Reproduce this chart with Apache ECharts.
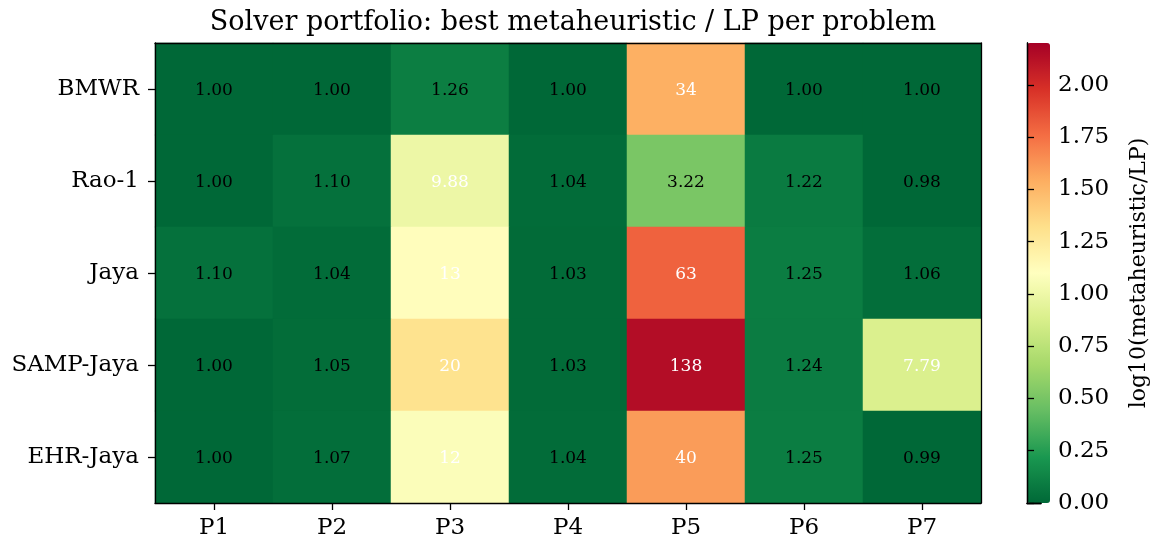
<!DOCTYPE html>
<html><head><meta charset="utf-8">
<script src="https://cdn.jsdelivr.net/npm/echarts@6/dist/echarts.min.js"></script>
<style>html,body{margin:0;padding:0;background:#fff}#c{width:1151px;height:546px}</style>
</head><body><div id="c"></div>
<script>
const problems = ['P1','P2','P3','P4','P5','P6','P7'];
const solvers = ['BMWR','Rao-1','Jaya','SAMP-Jaya','EHR-Jaya'];
const ratioBMWR     = [1.00, 1.00, 1.26, 1.00, 34,   1.00, 1.00];
const ratioRao1     = [1.00, 1.10, 9.88, 1.04, 3.22, 1.22, 0.98];
const ratioJaya     = [1.10, 1.04, 13,   1.03, 63,   1.25, 1.06];
const ratioSAMPJaya = [1.00, 1.05, 20,   1.03, 138,  1.24, 7.79];
const ratioEHRJaya  = [1.00, 1.07, 12,   1.04, 40,   1.25, 0.99];
const colorbarTicks = [0, 0.25, 0.5, 0.75, 1.0, 1.25, 1.5, 1.75, 2.0];
const vmin = 0, vmax = 2.2;

const rows = [ratioBMWR, ratioRao1, ratioJaya, ratioSAMPJaya, ratioEHRJaya];
const data = [];
rows.forEach((r, i) => r.forEach((v, j) => {
  const lv = Math.min(vmax, Math.max(vmin, Math.log10(v)));
  data.push({value: [j, i, lv, v], label: {color: v > 5 ? '#fff' : '#000'}});
}));

const FONT = 'DejaVu Serif';
const cmap = ['#006837','#1a9850','#66bd63','#a6d96a','#d9ef8b','#ffffbf','#fee08b','#fdae61','#f46d43','#d73027','#a50026'];

const chart = echarts.init(document.getElementById('c'), null, {renderer: 'canvas'});
const axisLine = {show: true, lineStyle: {color: '#000', width: 1.3}};
const tick = {show: true, length: 7, lineStyle: {color: '#000', width: 1.3}};
chart.setOption({
  animation: false,
  textStyle: {fontFamily: FONT},
  title: {text: 'Solver portfolio: best metaheuristic / LP per problem', left: 568, textAlign: 'center', top: 4,
          textStyle: {fontFamily: FONT, fontSize: 27, fontWeight: 'normal', color: '#000'}},
  grid: [
    {left: 155, top: 43, width: 826, height: 460},
    {left: 1027, top: 43, width: 23, height: 460}
  ],
  xAxis: [
    {type: 'category', data: problems, gridIndex: 0, position: 'bottom', z: 5,
     axisLine, axisTick: Object.assign({alignWithLabel: true}, tick),
     axisLabel: {fontFamily: FONT, fontSize: 23, color: '#000', margin: 14}, splitLine: {show: false}},
    {type: 'category', data: problems, gridIndex: 0, position: 'top', z: 5,
     axisLine, axisTick: {show: false}, axisLabel: {show: false}},
    {type: 'value', gridIndex: 1, position: 'bottom', min: 0, max: 1, z: 5, axisLine, axisTick: {show: false}, axisLabel: {show: false}, splitLine: {show: false}},
    {type: 'value', gridIndex: 1, position: 'top', min: 0, max: 1, z: 5, axisLine, axisTick: {show: false}, axisLabel: {show: false}, splitLine: {show: false}}
  ],
  yAxis: [
    {type: 'category', data: solvers, inverse: true, gridIndex: 0, position: 'left', z: 5,
     axisLine, axisTick: Object.assign({alignWithLabel: true}, tick),
     axisLabel: {fontFamily: FONT, fontSize: 23, color: '#000', margin: 16}},
    {type: 'category', data: solvers, inverse: true, gridIndex: 0, position: 'right', z: 5,
     axisLine, axisTick: {show: false}, axisLabel: {show: false}},
    {type: 'value', gridIndex: 1, position: 'right', min: vmin, max: vmax, z: 5,
     axisLine, splitLine: {show: false},
     axisTick: Object.assign({customValues: colorbarTicks}, tick),
     axisLabel: {fontFamily: FONT, fontSize: 23, color: '#000', margin: 17, customValues: colorbarTicks, formatter: v => Number(v).toFixed(2)},
     name: 'log10(metaheuristic/LP)', nameLocation: 'middle', nameRotate: 90, nameGap: 87,
     nameTextStyle: {fontFamily: FONT, fontSize: 22, color: '#000'}},
    {type: 'value', gridIndex: 1, position: 'left', min: vmin, max: vmax, z: 5,
     axisLine, axisTick: {show: false}, axisLabel: {show: false}, splitLine: {show: false}}
  ],
  visualMap: {
    type: 'continuous', min: vmin, max: vmax, dimension: 2, seriesIndex: 0,
    calculable: false, orient: 'vertical', left: 1027, top: 43, itemWidth: 23, itemHeight: 460,
    padding: 0, text: null, showLabel: false, hoverLink: false,
    inRange: {color: cmap}
  },
  series: [{
    type: 'heatmap', xAxisIndex: 0, yAxisIndex: 0, data: data,
    label: {show: true, fontFamily: FONT, fontSize: 17, offset: [0, 2],
      formatter: p => { const v = p.value[3]; return v >= 10 ? String(Math.round(v)) : v.toFixed(2); }},
    itemStyle: {borderWidth: 0},
    emphasis: {disabled: true}
  }]
});
</script></body></html>
